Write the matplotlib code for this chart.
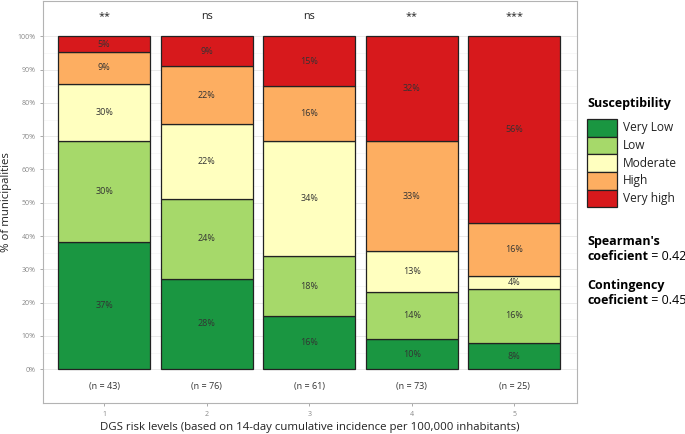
import numpy as np
import matplotlib.pyplot as plt
from matplotlib.patches import Rectangle

plt.rcParams['font.family'] = ['Open Sans', 'DejaVu Sans']

# Data
risk_levels = [1, 2, 3, 4, 5]
n_labels = ["(n = 43)", "(n = 76)", "(n = 61)", "(n = 73)", "(n = 25)"]
signif = ["**", "ns", "ns", "**", "***"]
categories = ["Very Low", "Low", "Moderate", "High", "Very high"]
colors = ["#1a9641", "#a6d96a", "#ffffbf", "#fdae61", "#d7191c"]

# heights of segments (%)
very_low = [38.2, 27.2, 15.9, 9.0, 7.9]
low = [30.3, 24.0, 18.0, 14.2, 16.2]
moderate = [17.3, 22.5, 34.5, 12.2, 3.8]
high = [9.5, 17.3, 16.7, 33.0, 16.0]
very_high = [4.7, 9.0, 14.9, 31.6, 56.1]

# printed labels
lab_very_low = ["37%", "28%", "16%", "10%", "8%"]
lab_low = ["30%", "24%", "18%", "14%", "16%"]
lab_moderate = ["30%", "22%", "34%", "13%", "4%"]
lab_high = ["9%", "22%", "16%", "33%", "16%"]
lab_very_high = ["5%", "9%", "15%", "32%", "56%"]

series = [very_low, low, moderate, high, very_high]
labels = [lab_very_low, lab_low, lab_moderate, lab_high, lab_very_high]

fig = plt.figure(figsize=(6.85, 4.34), dpi=100)
ax = fig.add_axes([0.063, 0.071, 0.779, 0.926])

x = np.array(risk_levels)
bottom = np.zeros(len(x))
for vals, labs, col in zip(series, labels, colors):
    vals = np.array(vals)
    ax.bar(x, vals, bottom=bottom, width=0.9, color=col, edgecolor="#222222",
           linewidth=0.9, zorder=3)
    for xi, b, v, l in zip(x, bottom, vals, labs):
        ax.text(xi, b + v / 2, l, ha="center", va="center", fontsize=6.5,
                color="#333333", zorder=4)
    bottom += vals

for xi, s in zip(x, signif):
    ax.text(xi, 105.8, s, ha="center", va="center", fontsize=7.8, color="#222222")
for xi, s in zip(x, n_labels):
    ax.text(xi, -5.1, s, ha="center", va="center", fontsize=6.5, color="#333333")

ax.set_xlim(0.405, 5.61)
ax.set_ylim(-10.2, 110.5)
ax.set_yticks(np.arange(0, 101, 10))
ax.set_yticklabels([f"{v}%" for v in range(0, 101, 10)])
ax.set_yticks(np.arange(5, 100, 10), minor=True)
ax.set_xticks(x)
ax.tick_params(axis="both", labelsize=5, colors="#888888", length=2, width=0.5)
ax.tick_params(axis="y", which="minor", length=0)
ax.grid(axis="y", which="major", color="#e6e6e6", linewidth=0.6, zorder=0)
ax.grid(axis="y", which="minor", color="#f2f2f2", linewidth=0.4, zorder=0)
for sp in ax.spines.values():
    sp.set_color("#b3b3b3")
    sp.set_linewidth(0.8)

ax.set_ylabel("% of municipalities", fontsize=8.2, color="#222222")
ax.yaxis.set_label_coords(-0.058, 0.5)
ax.set_xlabel("DGS risk levels (based on 14-day cumulative incidence per 100,000 inhabitants)",
              fontsize=8.2, color="#222222", labelpad=3)

# legend drawn by hand in figure coordinates
W, H = 685.0, 434.0
fig.text(587 / W, 1 - 104 / H, "Susceptibility", fontsize=9, fontweight="bold",
         va="center", ha="left")
box_h = 17.7
for i, (c, name) in enumerate(zip(colors, categories)):
    top = 119 + i * box_h
    fig.patches.append(Rectangle((587 / W, 1 - (top + box_h) / H), 29.5 / W, box_h / H,
                                 transform=fig.transFigure, facecolor=c,
                                 edgecolor="#222222", linewidth=0.9))
    fig.text(623 / W, 1 - (top + box_h / 2) / H, name, fontsize=8.6, va="center",
             ha="left", color="#222222")

def stat_text(y, first, second, value):
    fig.text(587 / W, 1 - y / H, first, fontsize=9, fontweight="bold", va="center")
    t = fig.text(587 / W, 1 - (y + 15) / H, second, fontsize=9, fontweight="bold",
                 va="center")
    ax.annotate(value, xy=(1, 0), xycoords=t, fontsize=9, va="bottom",
                annotation_clip=False)

stat_text(241.7, "Spearman's", "coeficient", " = 0.42")
stat_text(286, "Contingency", "coeficient", " = 0.45")

fig.savefig("out.png", dpi=100)
